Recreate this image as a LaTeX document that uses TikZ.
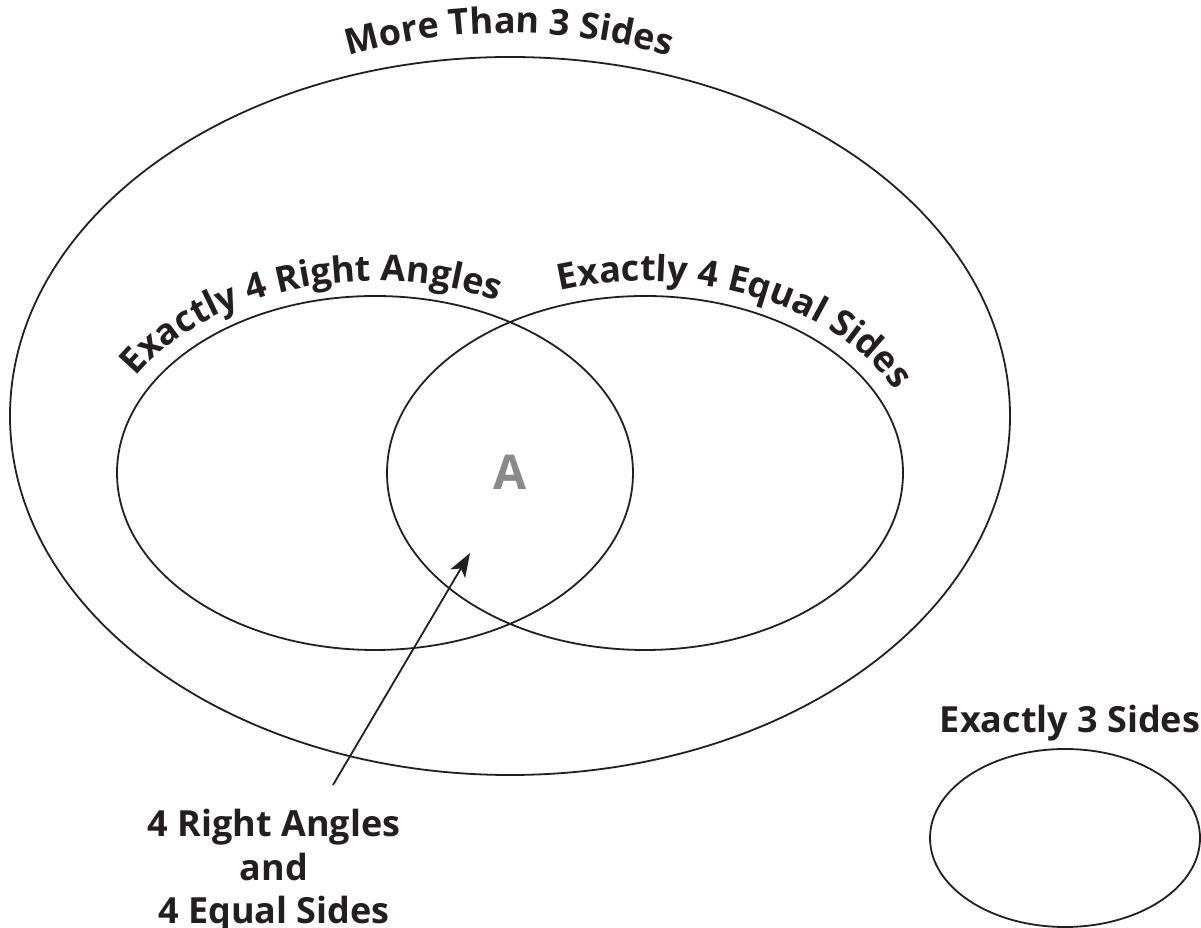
\documentclass[tikz,border=0pt]{standalone}
\usepackage{fontspec}
\setmainfont{Open Sans}
\usetikzlibrary{
  positioning,
  arrows.meta,
  decorations.text
}
\definecolor{ink}{HTML}{231F20}
\definecolor{letter}{HTML}{8A8A8A}
\newcommand{\vennfont}{\fontsize{36}{43.5}\selectfont\bfseries}

\begin{document}
\begin{tikzpicture}[x=1pt, y=1pt,
  rim/.style={line width=1.8pt, draw=ink},
  lbl/.style={font=\vennfont, text=ink, inner sep=0pt, align=center},
  curved/.style={decorate, decoration={text along path, text={|\vennfont\color{ink}|#1}}}
]
  \useasboundingbox (0,0) rectangle (1201,928);

  % Sets
  \draw[rim] (510,512) ellipse [x radius=500, y radius=359];
  \draw[rim] (375,455) ellipse [x radius=258, y radius=177];
  \draw[rim] (645,455) ellipse [x radius=258, y radius=177];
  \draw[rim] (1065,90) ellipse [x radius=135, y radius=89];

  % Curved set names
  \path[shift={(509,320)}, curved={More Than 3 Sides}, decoration={text align=center}]
    (108:575) arc [start angle=108, end angle=72, radius=575];
  \path[shift={(375,455)}, curved={Exactly 4 Right Angles}]
    (150:276 and 192) arc [start angle=150, end angle=20, x radius=276, y radius=192];
  \path[shift={(645,455)}, curved={Exactly 4 Equal Sides}]
    (108:276 and 192) arc [start angle=108, end angle=-20, x radius=276, y radius=192];

  % Plain labels
  \node[font=\fontsize{48}{48}\selectfont\bfseries, text=letter] (a) at (510,456) {A};
  \node[lbl, anchor=base] (tri) at (1070,195) {Exactly 3 Sides};
  \node[lbl] (both) at (274,57) {4 Right Angles\\and\\4 Equal Sides};

  % Pointer into the overlap
  \coordinate (tail) at (333,143);
  \coordinate (tip) at (470,375);
  \draw[line width=1.8pt, draw=ink, -{Stealth[length=24pt, width=17pt, inset=6pt]}] (tail) -- (tip);
\end{tikzpicture}
\end{document}
